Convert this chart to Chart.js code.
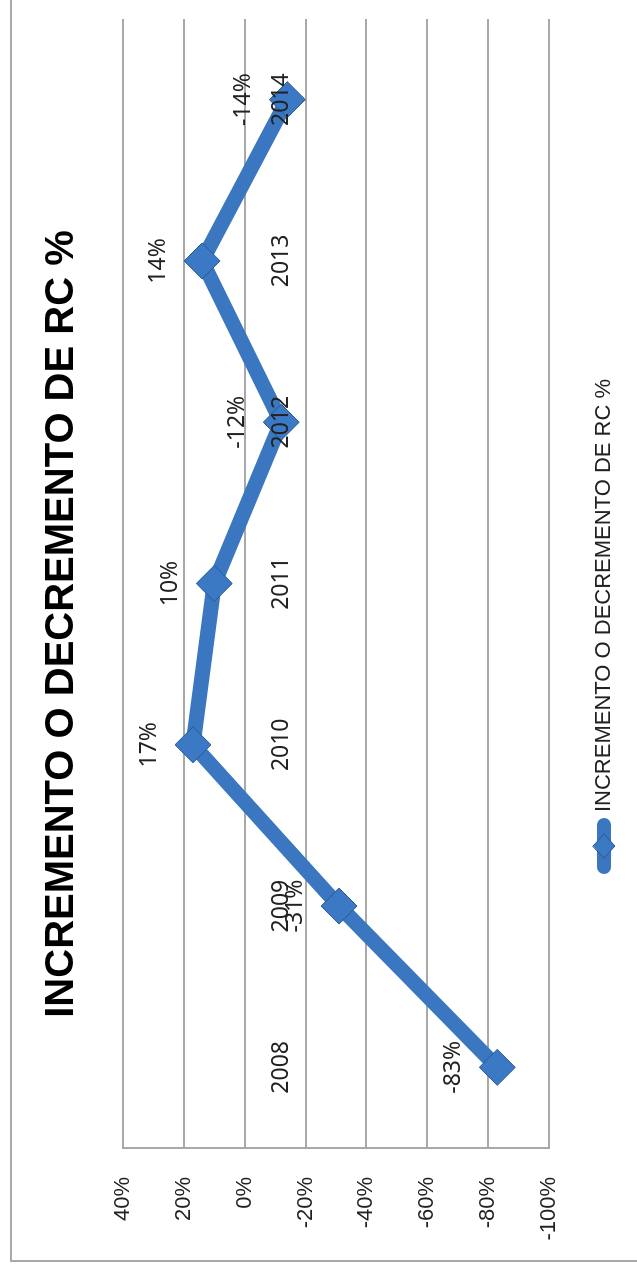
<!DOCTYPE html>
<html>
<head>
<meta charset="utf-8">
<script src="https://cdn.jsdelivr.net/npm/chart.js@4/dist/chart.umd.min.js"></script>
<style>
  html, body { margin: 0; padding: 0; background: #fff; }
  body { width: 637px; height: 1270px; overflow: hidden; position: relative; }
  #wrap {
    position: absolute; left: 0; top: 0;
    width: 1270px; height: 637px;
    transform-origin: 0 0;
    transform: translate(0, 1270px) rotate(-90deg);
  }
  #frame {
    position: absolute; left: 8px; top: 10px; right: 0; bottom: 0;
    border-left: 2px solid #a8a8a8; border-top: 2px solid #a8a8a8;
    pointer-events: none;
  }
  canvas { position: absolute; left: 0; top: 0; }
</style>
</head>
<body>
<div id="wrap">
  <canvas id="rcChart" width="1270" height="637"></canvas>
  <div id="frame"></div>
</div>
<script>
// data
const years = ["2008", "2009", "2010", "2011", "2012", "2013", "2014"];
const rcChange = [-83, -31, 17, 10, -12, 14, -14];
const pctTicks = [40, 20, 0, -20, -40, -60, -80, -100];
const seriesName = "INCREMENTO O DECREMENTO DE RC %";

const lineColor = "#3a77c0";
const markerFill = "#3b79c4";
const markerEdge = "#275894";
const gridColor = "#a8a8a8";
const textColor = "#222";

// legend marker: thick line with a diamond on it
const legendIcon = document.createElement("canvas");
legendIcon.width = 56;
legendIcon.height = 26;
(function () {
    const g = legendIcon.getContext("2d");
    g.strokeStyle = lineColor;
    g.lineWidth = 14;
    g.lineCap = "round";
    g.beginPath();
    g.moveTo(7, 13);
    g.lineTo(49, 13);
    g.stroke();
    g.beginPath();
    g.moveTo(28, 2);
    g.lineTo(40, 13);
    g.lineTo(28, 24);
    g.lineTo(16, 13);
    g.closePath();
    g.fillStyle = markerFill;
    g.fill();
    g.lineWidth = 1;
    g.strokeStyle = markerEdge;
    g.stroke();
})();

// value labels above each point
const valueLabels = {
    id: "valueLabels",
    afterLayout(chart) {
        // let the y tick labels run past the narrowed axis box
        chart.scales.y.left = 0;
    },
    afterDatasetsDraw(chart) {
        const ctx = chart.ctx;
        const meta = chart.getDatasetMeta(0);
        ctx.save();
        ctx.font = "23px 'Noto Sans'";
        ctx.fillStyle = textColor;
        ctx.textAlign = "center";
        ctx.textBaseline = "middle";
        meta.data.forEach((pt, i) => {
            ctx.fillText(rcChange[i] + "%", pt.x, pt.y - 44);
        });
        ctx.restore();
    }
};

new Chart(document.getElementById("rcChart"), {
    type: "line",
    data: {
        labels: years,
        datasets: [{
            label: seriesName,
            data: rcChange,
            borderColor: lineColor,
            borderWidth: 15,
            borderJoinStyle: "round",
            borderCapStyle: "round",
            tension: 0,
            pointStyle: "rectRot",
            pointRadius: 18,
            pointHoverRadius: 18,
            pointBackgroundColor: markerFill,
            pointBorderColor: markerEdge,
            pointBorderWidth: 1,
        }]
    },
    options: {
        responsive: false,
        animation: false,
        events: [],
        layout: { padding: { left: 40, right: 18, top: 0, bottom: 12 } },
        plugins: {
            title: {
                display: true,
                text: seriesName,
                color: "#000",
                font: { family: "'Liberation Sans', Arial, sans-serif", size: 40, weight: "bold", lineHeight: 1.2 },
                padding: { top: 38, bottom: 37 },
            },
            legend: {
                position: "bottom",
                labels: {
                    usePointStyle: true,
                    pointStyle: legendIcon,
                    pointStyleWidth: 46,
                    padding: 44,
                    color: textColor,
                    font: { family: "'Liberation Sans', Arial, sans-serif", size: 22 },
                }
            },
            tooltip: { enabled: false },
        },
        scales: {
            x: {
                type: "category",
                offset: true,
                position: { y: 0 },
                grid: { display: false, drawTicks: false },
                border: { display: false },
                ticks: {
                    z: 1,
                    color: textColor,
                    padding: 23,
                    maxRotation: 0,
                    font: { family: "'Noto Sans'", size: 23 },
                }
            },
            y: {
                min: -100,
                max: 40,
                afterBuildTicks: axis => { axis.ticks = pctTicks.map(v => ({ value: v })); },
                afterFit: axis => { axis.width = 82; },
                grid: { color: gridColor, lineWidth: 2, drawTicks: false },
                border: { display: true, color: gridColor, width: 2 },
                ticks: {
                    color: textColor,
                    padding: 29,
                    font: { family: "'Liberation Sans', Arial, sans-serif", size: 22 },
                    callback: v => v + "%",
                }
            }
        }
    },
    plugins: [valueLabels]
});
</script>
</body>
</html>
